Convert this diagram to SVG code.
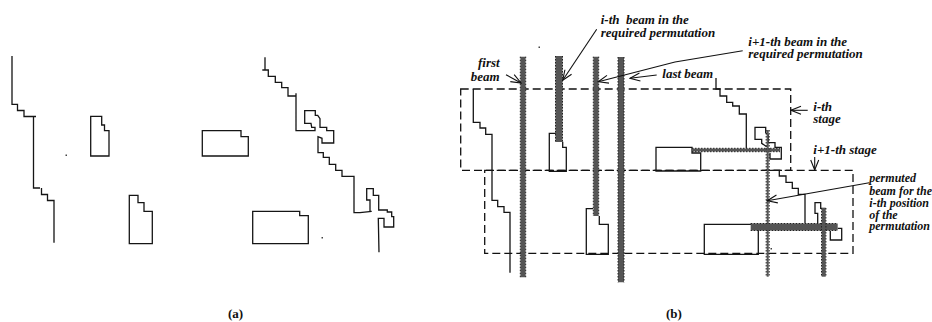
<svg xmlns="http://www.w3.org/2000/svg" width="932" height="322" viewBox="0 0 932 322">
<defs>
<marker id="arr" markerWidth="12" markerHeight="10" refX="11" refY="5" orient="auto" markerUnits="userSpaceOnUse"><path d="M1,1 L11,5 L1,9" fill="none" stroke="#111" stroke-width="1.1"/></marker>
</defs>
<style>
.o{fill:none;stroke:#151515;stroke-width:1.3}
.d{fill:none;stroke:#111;stroke-width:1.3;stroke-dasharray:8 4}
.b{stroke:#555;fill:none}
.e{fill:none;stroke:#222;stroke-width:1;stroke-dasharray:1.5 1.5}
.l{fill:none;stroke:#111;stroke-width:1.1;marker-end:url(#arr)}
text{font-family:"Liberation Serif",serif;font-weight:bold;font-style:italic;font-size:13px;fill:#111;white-space:pre}
.n{font-style:normal;font-size:13px}
.s{font-size:12px}
</style>
<rect width="932" height="322" fill="#fff"/>
<g id="panel-a">
<path id="a-chain-1" class="o" d="M12,56V104.3H17.5V110.5H24V116.5H36M33.5,116.5V188H40M41.5,188V194.5H47.5V200.5H54V242.7"/>
<path id="a-block-1" class="o" d="M90.7,116.3H101.7V125H104.5V130.7H109V156H90.7Z"/>
<path id="a-block-2" class="o" d="M129.3,195.3H138V202.7H144V211.3H152.3V243.7H129.3Z"/>
<path id="a-block-3" class="o" d="M202.3,130.7H241V136.7H248.3V156H202.3Z"/>
<path id="a-block-4" class="o" d="M252.7,211.3H299.7V215.7H308.3V243.7H252.7Z"/>
<path id="a-chain-2" class="o" d="M265,57.3V70M262.3,70H268.3V76.3H275.3V82.3H281.7V87.7H288V96H296M296,93.3V130.7H315V127.3H311.7L311,123.3H304.7V110.7H315.3V115.3H317.7L320,118.7V127.3H326.7V130.7H333.7V143H322V138.3L318,136.7V152.7H323.3V157.3H329.3V164.3H335.7V170.3H342V176.3H354V212.7H360L371.7,211.3H370V200H366.7V188.7H373.3V195.3H378.7V210H387.3V212H391.7V216.7H393.7V227H384V218.3H378.3L379,252.3"/>
<rect x="65.5" y="154.5" width="1.5" height="1.5" fill="#444"/>
<rect x="321.5" y="237" width="1.5" height="1.5" fill="#444"/>
</g>
<g id="stage-boxes">
<path id="stage-i" class="d" d="M460.7,89H790.7V170.3H460.7Z"/>
<path id="stage-i1" class="d" d="M484.7,170.3H853V253.3H484.7Z"/>
</g>
<g id="panel-b-shapes">
<path id="b-chain-1" class="o" d="M473.3,89V122.3H480V128H485.7V134.3H492V200.3H497.7V206.7H504V212.3H510V272.7"/>
<path id="b-block-1" class="o" d="M556,133.3H549.3V171.3H566.3V147.3H562.7V141.7"/>
<path id="b-block-2" class="o" d="M593,208.7H586.3V254.3H608.3V224.3H599.3V216"/>
<path id="b-block-3" class="o" d="M692,147.3H656V171H700.7V153H692Z"/>
<path id="b-block-4" class="o" d="M751,224.3H704.3V254.3H758.3V230"/>
<path id="b-chain-2" class="o" d="M716,78V89H720V96H726.7V102.3H732.7V106H739.3V114H746.3V148.3"/>
<path id="b-blob-1" class="o" d="M766.7,146.7L761.7,143.3V139.3H755V127.3H765.7V132.7L768.3,135V142.7H775V147.3H781.3V159H770V153"/>
<path id="b-chain-3" class="o" d="M767.7,170.3H779.3V176H786V182.3H792.3V188.3H798.3V194.3H805V223"/>
<path id="b-blob-2" class="o" d="M817.7,223.3V213.3H815V202.7H820.7V208.3H825.7M837.7,228.3H841.7V240H830.3V231"/>
<rect x="538.5" y="46.5" width="1.5" height="1.5" fill="#444"/>
<rect x="770.5" y="248" width="1.5" height="1.5" fill="#444"/>
</g>
<g id="beams">
<path id="beam-1" class="b" stroke-width="5" d="M523,56.7V277.3"/><path class="e" d="M520.3,56.7V277.3M525.7,56.7V277.3"/>
<path id="beam-2" class="b" stroke-width="7" d="M559,56V142"/><path class="e" d="M555.5,56V142M562.5,56V142"/>
<path id="beam-3" class="b" stroke-width="5" d="M596,56.7V216"/><path class="e" d="M593.3,56.7V216M598.7,56.7V216"/>
<path id="beam-4" class="b" stroke-width="6" d="M621,57V282.3"/><path class="e" d="M618,57V282.3M624,57V282.3"/>
<path id="beam-5" class="b" stroke-width="3" d="M692,150H780"/><path class="e" d="M692,148.3H780M692,151.7H780"/>
<path id="beam-6" class="b" stroke-width="2" d="M767.7,130V276.7"/><path class="e" d="M766.2,130V276.7M769.2,130V276.7"/>
<path id="beam-7" class="b" stroke-width="7" d="M750.7,227H837.7"/><path class="e" d="M750.7,223.5H837.7M750.7,230.5H837.7"/>
<path id="beam-8" class="b" stroke-width="4" d="M823.7,208V276.7"/><path class="e" d="M821.5,208V276.7M825.9,208V276.7"/>
</g>
<g id="connectors">
<path class="l" d="M506,74.7L521,83"/>
<path class="l" d="M596.7,29.3L562.7,80.3"/>
<path class="l" d="M742.7,50.7L675,62L598.3,81.7"/>
<path class="l" d="M656.7,75L630,78.3"/>
<path class="l" d="M807.7,110.3H791"/>
<path class="l" d="M814.7,157V170"/>
<path class="l" d="M869.3,182.7L767.3,200.7"/>
</g>
<g id="labels">
<text x="600.7" y="24">i-th  beam in the</text>
<text x="600.7" y="36.7">required permutation</text>
<text x="748.3" y="45.7">i+1-th beam in the</text>
<text x="748.3" y="57.7">required permutation</text>
<text x="478" y="66.7">first</text>
<text x="470.7" y="81">beam</text>
<text x="662.3" y="77.7">last beam</text>
<text x="813.3" y="111">i-th</text>
<text x="813.3" y="122.7">stage</text>
<text x="813.3" y="154">i+1-th stage</text>
<text class="s" x="869.3" y="182.3">permuted</text>
<text class="s" x="869.3" y="195">beam for the</text>
<text class="s" x="869.3" y="207.3">i-th position</text>
<text class="s" x="869.3" y="219">of the</text>
<text class="s" x="869.3" y="230.3">permutation</text>
<text class="n" x="228" y="318">(a)</text>
<text class="n" x="666" y="318">(b)</text>
</g>
</svg>
